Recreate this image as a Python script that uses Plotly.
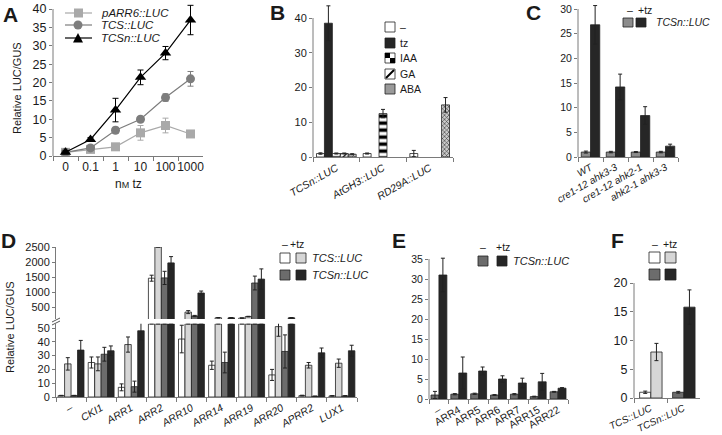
import plotly.graph_objects as go

W, H = 722, 435
FONT = "Liberation Sans, Arial, sans-serif"
INK = "#1a1a1a"
AXC = "#7a7a7a"
WHITE, LIGHT, DARK, BLACK = "#ffffff", "#d6d6d6", "#6c6c6c", "#262626"
C_GRAY = "#8c8c8c"
EDGE = "#222222"

# ---------------- Panel A ----------------
A_doses = ["0", "0.1", "1", "10", "100", "1000"]
A_pARR6 = [1.0, 1.8, 2.5, 6.3, 8.3, 6.0]
A_pARR6_err = [0.3, 0.4, 0.4, 2.0, 2.0, 0.4]
A_TCS = [1.0, 2.2, 7.0, 10.0, 15.9, 21.0]
A_TCS_err = [0.4, 0.6, 0.8, 0.6, 1.0, 2.0]
A_TCSn = [1.0, 4.5, 12.5, 21.4, 28.0, 37.0]
A_TCSn_err = [0.4, 0.5, 3.2, 2.0, 1.8, 4.0]

# ---------------- Panel B ----------------
B_reporters = ["TCSn::LUC", "AtGH3::LUC", "RD29A::LUC"]
B_treatments = ["–", "tz", "IAA", "GA", "ABA"]
B_minus = [1.0, 1.0, 1.0]
B_minus_err = [0.2, 0.15, 0.9]
B_tz = [38.5, None, None]
B_tz_err = [5.0, None, None]
B_IAA = [1.0, 12.5, None]
B_IAA_err = [0.15, 1.2, None]
B_GA = [1.0, None, None]
B_GA_err = [0.15, None, None]
B_ABA = [0.8, None, 15.0]
B_ABA_err = [0.15, None, 2.1]

# ---------------- Panel C ----------------
C_lines = ["WT", "cre1-12 ahk3-3", "cre1-12 ahk2-1", "ahk2-1 ahk3-3"]
C_minus = [1.0, 1.0, 1.0, 1.0]
C_minus_err = [0.2, 0.15, 0.1, 0.15]
C_tz = [26.8, 14.2, 8.4, 2.2]
C_tz_err = [3.9, 2.6, 1.8, 0.4]

# ---------------- Panel D ----------------
D_effectors = ["–", "CKI1", "ARR1", "ARR2", "ARR10", "ARR14", "ARR19", "ARR20", "APRR2", "LUX1"]
D_TCS_minus = [1.0, 25.0, 7.0, 1460, 42.0, 23.0, 130, 16.0, 1.0, 0.8]
D_TCS_minus_err = [0.2, 4.0, 2.5, 100, 10.0, 3.0, 10, 4.0, 0.3, 0.2]
D_TCS_tz = [24.0, 24.0, 38.0, 2600, 330, 140, 180, 51.0, 23.0, 24.5]
D_TCS_tz_err = [4.5, 5.0, 5.5, 0, 50, 10, 10, 7.0, 2.0, 3.0]
D_TCSn_minus = [1.0, 31.0, 7.5, 1470, 200, 25.0, 1300, 33.0, 0.5, 0.8]
D_TCSn_minus_err = [0.2, 5.0, 4.0, 220, 20, 7.5, 230, 12.0, 0.2, 0.2]
D_TCSn_tz = [34.0, 33.5, 48.0, 1970, 967, 140, 1430, 140, 32.0, 33.5]
D_TCSn_tz_err = [7.0, 3.5, 6.5, 210, 65, 10, 340, 10, 3.5, 4.0]

# ---------------- Panel E ----------------
E_effectors = ["–", "ARR4", "ARR5", "ARR6", "ARR7", "ARR15", "ARR22"]
E_minus = [1.0, 1.2, 1.3, 1.0, 1.2, 0.6, 1.8]
E_minus_err = [0.9, 0.15, 0.15, 0.1, 0.15, 0.1, 0.1]
E_tz = [31.0, 6.5, 7.0, 5.0, 4.0, 4.3, 2.7]
E_tz_err = [4.2, 4.0, 1.0, 0.8, 1.2, 2.1, 0.15]

# ---------------- Panel F ----------------
F_reporters = ["TCS::LUC", "TCSn::LUC"]
F_minus = [1.0, 1.0]
F_minus_err = [0.2, 0.15]
F_tz = [8.0, 15.8]
F_tz_err = [1.5, 3.0]


def X(p):
    return p / W


def Y(p):
    return 1 - p / H


def ydom(p0, pref, vref, vmax):
    ppu = (p0 - pref) / vref
    return [Y(p0), Y(p0 - vmax * ppu)]


def ital(lst):
    return [f"<i>{s}</i>" for s in lst]


fig = go.Figure()

# ---- A traces
for vals, errs, color, sym, size in [
    (A_pARR6, A_pARR6_err, "#a9a9a9", "square", 9),
    (A_TCS, A_TCS_err, "#7d7d7d", "circle", 9),
    (A_TCSn, A_TCSn_err, "#000000", "triangle-up", 10),
]:
    fig.add_trace(go.Scatter(
        x=A_doses, y=vals, mode="lines+markers",
        marker=dict(symbol=sym, size=size, color=color),
        line=dict(color=color, width=1.2),
        error_y=dict(type="data", array=errs, color=color, thickness=1, width=3),
        xaxis="x", yaxis="y", cliponaxis=False, showlegend=False,
    ))


def bar(x, y, err, color, xa, ya, width, offset, pattern=None):
    marker = dict(color=color, line=dict(color=EDGE, width=0.8))
    if pattern:
        marker["pattern"] = pattern
    fig.add_trace(go.Bar(
        x=x, y=y, width=width, offset=offset, marker=marker,
        error_y=dict(type="data", array=err, color=EDGE, thickness=1, width=2),
        xaxis=xa, yaxis=ya, showlegend=False,
    ))


# ---- B traces
bw = 0.17
B_series = [
    (B_minus, B_minus_err, WHITE, None),
    (B_tz, B_tz_err, BLACK, None),
    (B_IAA, B_IAA_err, WHITE, dict(shape="-", size=7, solidity=0.5, fgcolor="#000", bgcolor="#fff")),
    (B_GA, B_GA_err, WHITE, dict(shape="/", size=4, solidity=0.3, fgcolor="#000", bgcolor="#fff")),
    (B_ABA, B_ABA_err, "#999", dict(shape="x", size=3, solidity=0.35, fgcolor="#333", bgcolor="#ccc")),
]
for i, (v, e, c, p) in enumerate(B_series):
    bar(ital(B_reporters), v, e, c, "x2", "y2", bw, -0.425 + i * bw, p)

# ---- C traces
bar(ital(C_lines), C_minus, C_minus_err, C_GRAY, "x3", "y3", 0.37, -0.37)
bar(ital(C_lines), C_tz, C_tz_err, BLACK, "x3", "y3", 0.37, 0.0)

# ---- D traces (broken axis: lower 0-53, upper 100-2500, shared x axis)
D_LOW_MAX, D_UP_MIN, D_UP_MAX = 53, 100, 2500
dw = 0.215
D_series = [
    (D_TCS_minus, D_TCS_minus_err, WHITE),
    (D_TCS_tz, D_TCS_tz_err, LIGHT),
    (D_TCSn_minus, D_TCSn_minus_err, DARK),
    (D_TCSn_tz, D_TCSn_tz_err, BLACK),
]
for i, (v, e, c) in enumerate(D_series):
    low_v = [min(val, D_LOW_MAX) for val in v]
    low_err = [er if val < D_LOW_MAX else None for val, er in zip(v, e)]
    up_v = [min(val, D_UP_MAX) if val > D_UP_MIN else None for val in v]
    up_err = [er if (val > D_UP_MIN and val < D_UP_MAX and er > 0) else None for val, er in zip(v, e)]
    bar(ital(D_effectors), low_v, low_err, c, "x4", "y4", dw, -0.43 + i * dw)
    bar(ital(D_effectors), up_v, up_err, c, "x4", "y5", dw, -0.43 + i * dw)

# ---- E traces
bar(E_effectors, E_minus, E_minus_err, DARK, "x6", "y6", 0.4, -0.4)
bar(E_effectors, E_tz, E_tz_err, BLACK, "x6", "y6", 0.4, 0.0)

# ---- F traces
bar(ital(F_reporters), F_minus, F_minus_err, [WHITE, DARK], "x7", "y7", 0.34, -0.33)
bar(ital(F_reporters), F_tz, F_tz_err, [LIGHT, BLACK], "x7", "y7", 0.34, 0.01)


def xax(dom, anchor, n, size, angle=0):
    return dict(domain=[X(dom[0]), X(dom[1])], anchor=anchor, type="category",
                range=[-0.5, n - 0.5], showline=True, linecolor=AXC, linewidth=1,
                ticks="outside", tickson="boundaries", ticklen=4, tickcolor=AXC,
                showgrid=False, zeroline=False, tickangle=angle, automargin=False,
                tickfont=dict(size=size, color=INK, family=FONT), fixedrange=True)


def yax(dom, anchor, rng, tickvals, size, showline=False):
    return dict(domain=dom, anchor=anchor, range=rng, tickvals=tickvals,
                showline=showline, linecolor=AXC, linewidth=1, automargin=False,
                ticks="outside", ticklen=3, tickcolor=AXC, showgrid=False,
                zeroline=False, tickfont=dict(size=size, color=INK, family=FONT),
                fixedrange=True)


layout = dict(
    template="none",
    width=W, height=H, margin=dict(l=0, r=0, t=0, b=0, pad=0, autoexpand=False),
    paper_bgcolor="white", plot_bgcolor="white", barmode="overlay",
    font=dict(family=FONT, color=INK), showlegend=False,
    xaxis=xax((53, 203), "y", 6, 12),
    yaxis=yax(ydom(156, 9, 40, 42), "x", [0, 42], list(range(0, 41, 5)), 12.5),
    xaxis2=xax((313, 453), "y2", 3, 10.5, -30),
    yaxis2=yax(ydom(157, 18, 40, 45), "x2", [0, 45], [0, 10, 20, 30, 40], 11),
    xaxis3=xax((578, 678), "y3", 4, 10, -30),
    yaxis3=yax(ydom(157, 9, 30, 31.5), "x3", [0, 31.5], list(range(0, 31, 5)), 10.5),
    xaxis4=xax((56, 357), "y4", 10, 10.5, -30),
    yaxis4=yax(ydom(397, 328, 50, 53), "x4", [0, 53], list(range(0, 51, 10)), 11, True),
    yaxis5=yax([Y(319), Y(247)], "x4", [D_UP_MIN, D_UP_MAX], [500, 1000, 1500, 2000, 2500], 11, True),
    xaxis6=xax((429, 568), "y6", 7, 10.5, -30),
    yaxis6=yax(ydom(399, 259, 35, 36.5), "x6", [0, 36.5], list(range(0, 36, 5)), 10.5),
    xaxis7=xax((634, 700), "y7", 2, 10, -25),
    yaxis7=yax(ydom(398, 283, 20, 20.5), "x7", [0, 20.5], list(range(0, 21, 5)), 12.5),
)
fig.update_layout(**layout)

shapes = []
annots = []

# y axis lines ending at the top tick
for k, top in [("", 40), ("2", 40), ("3", 30), ("6", 35), ("7", 20)]:
    shapes.append(dict(type="line", xref=f"x{k} domain", x0=0, x1=0, yref=f"y{k}", y0=0, y1=top,
                       line=dict(color=AXC, width=1)))


def prect(x0, y0, x1, y1, fill, line=EDGE, lw=0.8):
    shapes.append(dict(type="rect", xref="paper", yref="paper", x0=X(x0), x1=X(x1),
                       y0=Y(y1), y1=Y(y0), fillcolor=fill, line=dict(color=line, width=lw)))


def pline(x0, y0, x1, y1, color, w=1):
    shapes.append(dict(type="line", xref="paper", yref="paper", x0=X(x0), x1=X(x1),
                       y0=Y(y0), y1=Y(y1), line=dict(color=color, width=w)))


def text(x, y, s, size=11, xa="left", ya="middle", angle=0, bold=False, color=INK):
    if bold:
        s = f"<b>{s}</b>"
    annots.append(dict(xref="paper", yref="paper", x=X(x), y=Y(y), text=s, showarrow=False,
                       xanchor=xa, yanchor=ya, textangle=angle,
                       font=dict(size=size, color=color, family=FONT)))


# panel letters
for lt, x, y in [("A", 1, 15), ("B", 268, 12), ("C", 524, 13), ("D", -1, 240), ("E", 390, 240), ("F", 609, 240)]:
    text(x, y, lt, 21, bold=True)

# axis titles
text(17, 88, "Relative LUC/GUS", 11, xa="center", angle=-90)
text(10, 327, "Relative LUC/GUS", 11, xa="center", angle=-90)
text(128, 184, "n<span style='font-size:9px'>M</span> tz", 12, xa="center")

# A legend
for (y, color) in [(13, "#a9a9a9"), (25, "#7d7d7d"), (38, "#000000")]:
    pline(65, y, 92, y, color, 1.2)
prect(74, 8.5, 83, 17.5, "#a9a9a9", "#a9a9a9", 0)
shapes.append(dict(type="circle", xref="paper", yref="paper", x0=X(73.5), x1=X(82.5),
                   y0=Y(29.5), y1=Y(20.5), fillcolor="#7d7d7d", line=dict(width=0)))
shapes.append(dict(type="path", xref="paper", yref="paper",
                   path=f"M {X(73)},{Y(42.5)} L {X(83)},{Y(42.5)} L {X(78)},{Y(33)} Z",
                   fillcolor="#000", line=dict(width=0)))
text(99, 13, "<i>pARR6::LUC</i>", 11.5)
text(99, 25, "<i>TCS::LUC</i>", 11.5)
text(99, 38, "<i>TCSn::LUC</i>", 11.5)

# B legend
rows = [22, 38, 53, 69, 84]
prect(385, rows[0], 395, rows[0] + 10, WHITE)
prect(385, rows[1], 395, rows[1] + 10, BLACK)
prect(385, rows[2], 395, rows[2] + 10, WHITE)
prect(385, rows[2], 390, rows[2] + 5, "#000", "#000", 0)
prect(390, rows[2] + 5, 395, rows[2] + 10, "#000", "#000", 0)
prect(385, rows[3], 395, rows[3] + 10, WHITE)
pline(386, rows[3] + 9, 394, rows[3] + 1, "#000", 2)
prect(385, rows[4], 395, rows[4] + 10, "#9a9a9a")
for lab, r in zip(B_treatments, rows):
    text(398, r + 5, lab, 10.5)

# C legend
text(630, 10, "–", 10.5, xa="center")
text(645, 10, "+tz", 10.5, xa="center")
prect(623, 18, 633, 27, C_GRAY)
prect(636, 18, 646, 27, BLACK)
text(654, 22.5, "<i>TCSn::LUC</i>", 10.5)

# D legend
text(284.5, 243.5, "–", 10.5, xa="center")
text(297, 243.5, "+tz", 10.5, xa="center")
prect(280, 253, 290, 263, WHITE)
prect(296, 253, 306, 263, LIGHT)
prect(280, 270, 290, 280, DARK)
prect(296, 270, 306, 280, BLACK)
text(310, 258, "<i>TCS::LUC</i>", 11)
text(310, 275, "<i>TCSn::LUC</i>", 11)
# axis break marks
pline(52, 322, 60, 318, "#555", 1)
pline(52, 325, 60, 321, "#555", 1)

# E legend
text(483, 247, "–", 10.5, xa="center")
text(503, 247, "+tz", 10.5, xa="center")
prect(478, 256, 488, 266, DARK)
prect(497, 256, 507, 266, BLACK)
text(511, 261, "<i>TCSn::LUC</i>", 11)

# F legend
text(654.5, 243.5, "–", 10.5, xa="center")
text(670, 243.5, "+tz", 10.5, xa="center")
prect(649, 252, 660, 263, WHITE)
prect(665, 252, 676, 263, LIGHT)
prect(649, 269, 660, 280, DARK)
prect(665, 269, 676, 280, BLACK)

fig.update_layout(shapes=shapes, annotations=annots)
fig.write_html("out.html", config={"displayModeBar": False},
               post_script="document.body.style.margin='0px';")
